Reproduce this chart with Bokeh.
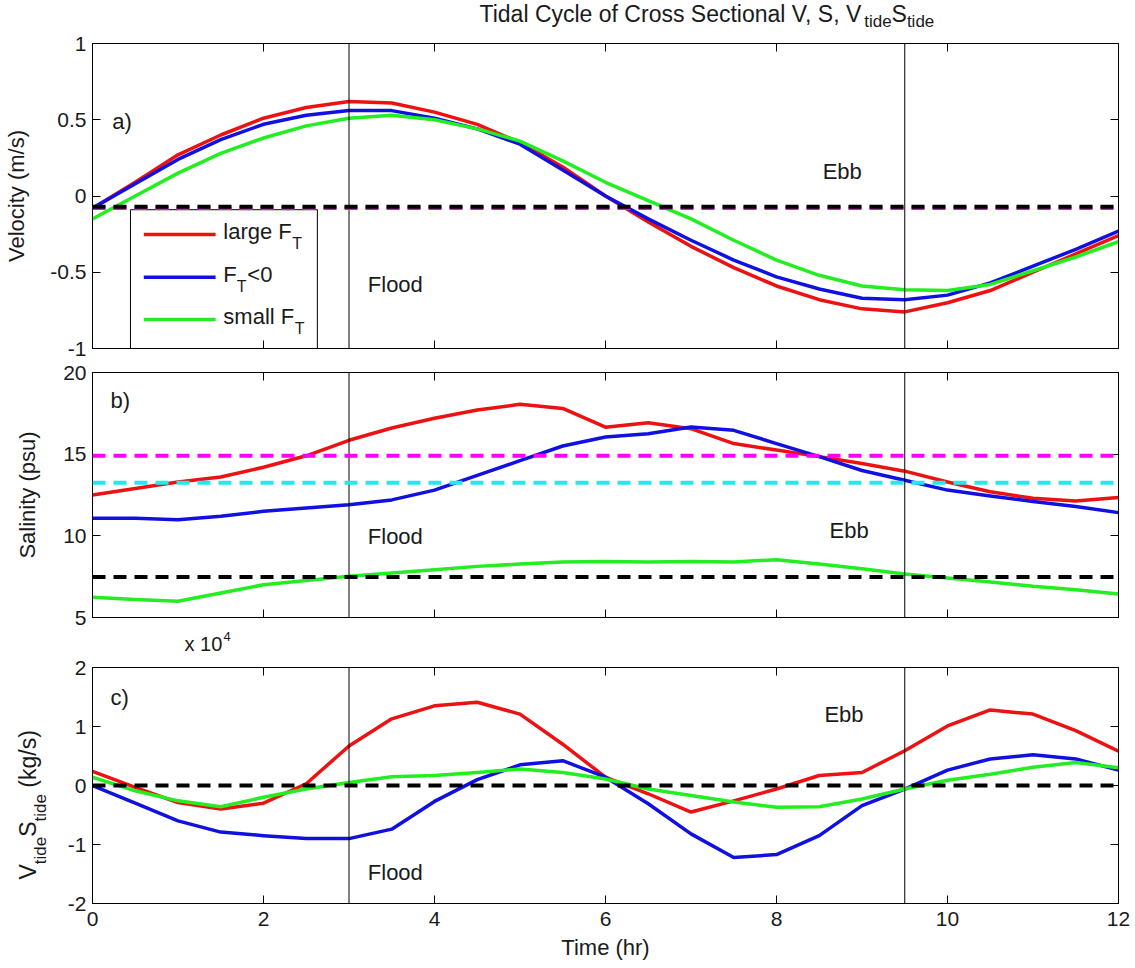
from bokeh.plotting import figure
from bokeh.layouts import column, row
from bokeh.models import (Range1d, LinearAxis, FixedTicker, CustomJSTickFormatter,
                          Span, Label)
from bokeh.core.properties import value
from bokeh.embed import file_html
from bokeh.resources import INLINE

# ---------------- data ----------------
time_hr = [0, 0.5, 1, 1.5, 2, 2.5, 3, 3.5, 4, 4.5, 5, 5.5, 6,
           6.5, 7, 7.5, 8, 8.5, 9, 9.5, 10, 10.5, 11, 11.5, 12]

# a) cross-sectional velocity (m/s)
vel_large = [-0.08, 0.09, 0.27, 0.40, 0.51, 0.58, 0.62, 0.61, 0.55, 0.47, 0.35, 0.19, 0.00,
             -0.17, -0.33, -0.47, -0.59, -0.68, -0.74, -0.76, -0.70, -0.62, -0.50, -0.38, -0.26]
vel_neg = [-0.08, 0.08, 0.24, 0.37, 0.47, 0.53, 0.56, 0.56, 0.51, 0.44, 0.34, 0.17, 0.00,
           -0.15, -0.29, -0.42, -0.53, -0.61, -0.67, -0.68, -0.65, -0.57, -0.46, -0.35, -0.23]
vel_small = [-0.15, 0.00, 0.15, 0.28, 0.38, 0.46, 0.51, 0.53, 0.50, 0.44, 0.36, 0.23, 0.09,
             -0.03, -0.15, -0.29, -0.42, -0.52, -0.59, -0.615, -0.62, -0.58, -0.49, -0.40, -0.30]

# b) salinity (psu)
sal_large = [12.5, 12.9, 13.3, 13.6, 14.2, 14.9, 15.85, 16.6, 17.2, 17.7, 18.05, 17.8, 16.65,
             16.93, 16.56, 15.65, 15.25, 14.85, 14.43, 13.96, 13.3, 12.7, 12.3, 12.13, 12.34]
sal_neg = [11.08, 11.08, 10.98, 11.2, 11.5, 11.7, 11.9, 12.2, 12.8, 13.7, 14.6, 15.5, 16.05,
           16.25, 16.66, 16.46, 15.65, 14.85, 14.0, 13.4, 12.8, 12.44, 12.1, 11.8, 11.42]
sal_small = [6.24, 6.1, 6.0, 6.5, 7.0, 7.26, 7.52, 7.72, 7.93, 8.13, 8.27, 8.4, 8.43,
             8.4, 8.43, 8.4, 8.54, 8.27, 7.99, 7.66, 7.42, 7.18, 6.91, 6.7, 6.44]

# c) tidal salt flux V_tide*S_tide (x 10^4 kg/s)
flux_large = [0.24, -0.03, -0.29, -0.40, -0.30, 0.03, 0.67, 1.13, 1.35, 1.41, 1.21, 0.70, 0.14,
              -0.14, -0.45, -0.26, -0.06, 0.17, 0.22, 0.59, 1.01, 1.28, 1.21, 0.93, 0.58]
flux_neg = [0.0, -0.30, -0.60, -0.79, -0.85, -0.90, -0.90, -0.74, -0.27, 0.10, 0.35, 0.42, 0.14,
            -0.31, -0.82, -1.22, -1.17, -0.85, -0.34, -0.06, 0.26, 0.45, 0.52, 0.45, 0.26]
flux_small = [0.14, -0.09, -0.26, -0.36, -0.20, -0.06, 0.05, 0.15, 0.17, 0.22, 0.28, 0.22, 0.11,
              -0.06, -0.17, -0.28, -0.37, -0.36, -0.23, -0.06, 0.09, 0.19, 0.31, 0.39, 0.30]

# mean (reference) levels drawn dashed
vel_mean_large = -0.078
vel_mean_small = -0.07
sal_mean_large = 14.9
sal_mean_neg = 13.25
sal_mean_small = 7.48
flux_zero = 0.0

phase_lines = [3, 9.5]          # hours separating flood / ebb
x_ticks = [0, 2, 4, 6, 8, 10, 12]
vel_ticks = [-1, -0.5, 0, 0.5, 1]
sal_ticks = [5, 10, 15, 20]
flux_ticks = [-2, -1, 0, 1, 2]

RED, BLUE, GREEN = "#ee1111", "#1010e0", "#22ee22"
MAGENTA, CYAN, BLACK = "#ff00ff", "#22e8f0", "#000000"
TXT = "#1a1a1a"
FONT = "Liberation Sans"
FS = "22px"
TICK_FS = "21px"
SUB = "16px"

FULL_W = 1133
LEFT_B = 92
RIGHT_B = 15
FRAME_W = FULL_W - LEFT_B - RIGHT_B

num_fmt = CustomJSTickFormatter(code="return tick.toString();")


def blank_fmt():
    return CustomJSTickFormatter(code="return '';")


def style_axis(ax, labels):
    ax.major_tick_in = 8
    ax.major_tick_out = 0
    ax.minor_tick_in = 0
    ax.minor_tick_out = 0
    ax.axis_line_color = BLACK
    ax.major_tick_line_color = BLACK
    ax.major_label_text_font = FONT
    ax.major_label_text_color = TXT
    ax.axis_label_text_font = FONT
    ax.axis_label_text_font_size = FS
    ax.axis_label_text_font_style = "normal"
    ax.axis_label_text_color = TXT
    if labels:
        ax.major_label_text_font_size = TICK_FS
        ax.major_label_standoff = 8
    else:
        ax.major_label_text_font_size = "1px"
        ax.major_label_standoff = 0


def make_fig(ymin, ymax, yticks, fh, top, bottom, xlabels, ylabel, ystand, left_b=LEFT_B):
    p = figure(frame_width=FRAME_W, frame_height=fh,
               x_range=Range1d(0, 12), y_range=Range1d(ymin, ymax),
               output_backend="svg", toolbar_location=None,
               x_axis_location=None, y_axis_location=None,
               min_border_left=left_b, min_border_right=RIGHT_B,
               min_border_top=top, min_border_bottom=bottom)
    p.grid.visible = False
    p.outline_line_color = BLACK
    p.outline_line_width = 1
    p.background_fill_color = "white"
    p.border_fill_color = "white"

    left = LinearAxis(ticker=FixedTicker(ticks=yticks), formatter=num_fmt)
    style_axis(left, True)
    left.major_label_standoff = 6
    if ylabel:
        left.axis_label = ylabel
        left.axis_label_standoff = ystand
    p.add_layout(left, "left")

    right = LinearAxis(ticker=FixedTicker(ticks=yticks), formatter=blank_fmt())
    style_axis(right, False)
    p.add_layout(right, "right")

    below = LinearAxis(ticker=FixedTicker(ticks=x_ticks),
                       formatter=num_fmt if xlabels else blank_fmt())
    style_axis(below, xlabels)
    if xlabels:
        below.axis_label = "Time (hr)"
        below.axis_label_standoff = 6
    p.add_layout(below, "below")

    above = LinearAxis(ticker=FixedTicker(ticks=x_ticks), formatter=blank_fmt())
    style_axis(above, False)
    p.add_layout(above, "above")

    for t in phase_lines:
        p.add_layout(Span(location=t, dimension="height", line_color=BLACK, line_width=1))
    return p


def strip(w, h):
    """A bare figure used only to hold text outside the axes (pixel coordinates)."""
    s = figure(frame_width=w, frame_height=h, x_range=Range1d(0, w), y_range=Range1d(0, h),
               output_backend="svg", toolbar_location=None,
               x_axis_location=None, y_axis_location=None,
               min_border_left=0, min_border_right=0, min_border_top=0, min_border_bottom=0)
    s.grid.visible = False
    s.outline_line_color = None
    s.background_fill_color = "white"
    s.border_fill_color = "white"
    return s


def stext(s, x, y, text, size=FS, angle=0):
    s.text(x=[x], y=[y], text=[text], text_font=value(FONT), text_font_size=value(size),
           text_color=TXT, text_align="left", text_baseline="middle", angle=angle)


def lab(p, text, x, y, size=FS, xo=0, yo=0, align="left"):
    p.add_layout(Label(x=x, y=y, text=text, x_offset=xo, y_offset=yo,
                       text_font=FONT, text_font_size=size, text_color=TXT,
                       text_align=align, text_baseline="middle"))


def hdash(p, level, color):
    p.add_layout(Span(location=level, dimension="width", line_color=color,
                      line_width=4, line_dash="13 8"))


def series(p, ys, color):
    p.line(time_hr, ys, line_color=color, line_width=3.5, line_join="round")


# ---------------- title strip ----------------
TITLE_H = 31
ts = strip(FULL_W, TITLE_H)
stext(ts, 387, 18.0, "Tidal Cycle of Cross Sectional V, S, V", size="23px")
stext(ts, 771.7, 9.7, "tide", size="17px")
stext(ts, 799.1, 18.0, "S", size="23px")
stext(ts, 814.4, 9.7, "tide", size="17px")

# ---------------- panel a ----------------
pa = make_fig(-1, 1, vel_ticks, 305, 12, 12, False, "Velocity (m/s)", 18)
series(pa, vel_large, RED)
series(pa, vel_neg, BLUE)
series(pa, vel_small, GREEN)
hdash(pa, vel_mean_large, MAGENTA)
hdash(pa, vel_mean_small, BLACK)
lab(pa, "a)", 0.23, 0.49)
lab(pa, "Flood", 3.22, -0.58)
lab(pa, "Ebb", 8.54, 0.16)

# legend (drawn by hand so that the subscripts can be typeset)
pa.quad(left=[0.444], right=[2.63], bottom=[-1], top=[-0.09],
        fill_color="white", line_color=BLACK, line_width=1)
leg_rows = [-0.253, -0.532, -0.81]
leg_colors = [RED, BLUE, GREEN]
for yrow, c in zip(leg_rows, leg_colors):
    pa.segment(x0=[0.6], x1=[1.44], y0=[yrow], y1=[yrow], line_color=c, line_width=3.5)
lab(pa, "large F", 1.53, leg_rows[0], yo=3)
lab(pa, "T", 1.53, leg_rows[0], size=SUB, xo=69, yo=-9)
lab(pa, "F", 1.53, leg_rows[1], yo=3)
lab(pa, "T", 1.53, leg_rows[1], size=SUB, xo=13.5, yo=-9)
lab(pa, "<0", 1.53, leg_rows[1], xo=24, yo=3)
lab(pa, "small F", 1.53, leg_rows[2], yo=3)
lab(pa, "T", 1.53, leg_rows[2], size=SUB, xo=71.5, yo=-9)

# ---------------- panel b ----------------
pb = make_fig(5, 20, sal_ticks, 245, 12, 12, False, "Salinity (psu)", 20)
hdash(pb, sal_mean_large, MAGENTA)
hdash(pb, sal_mean_neg, CYAN)
series(pb, sal_large, RED)
series(pb, sal_neg, BLUE)
series(pb, sal_small, GREEN)
hdash(pb, sal_mean_small, BLACK)
lab(pb, "b)", 0.21, 18.3)
lab(pb, "Flood", 3.22, 9.94)
lab(pb, "Ebb", 8.62, 10.3)

# ---------------- exponent strip ----------------
EXP_H = 26
es = strip(FULL_W, EXP_H)
stext(es, 92, 11.2, "x 10", size="20px")
stext(es, 131, 18.7, "4", size="13px")

# ---------------- panel c ----------------
YL_W = 50
C_TOP, C_FRAME, C_BOT = 12, 236, 63
pc = make_fig(-2, 2, flux_ticks, C_FRAME, C_TOP, C_BOT, True, None, 0, left_b=LEFT_B - YL_W)
series(pc, flux_large, RED)
series(pc, flux_neg, BLUE)
series(pc, flux_small, GREEN)
hdash(pc, flux_zero, BLACK)
lab(pc, "c)", 0.21, 1.5)
lab(pc, "Flood", 3.22, -1.47)
lab(pc, "Ebb", 8.56, 1.21)

# rotated y-axis label with subscripts, in its own strip left of panel c
YL_H = C_TOP + C_FRAME + C_BOT
ys_ = strip(YL_W, YL_H)
ROT = 1.5707963267948966
B0 = C_BOT - 2
stext(ys_, 27, B0 + 38, "V", size="23px", angle=ROT)
stext(ys_, 40, B0 + 53.3, "tide", size="17px", angle=ROT)
stext(ys_, 27, B0 + 80.7, "S", size="23px", angle=ROT)
stext(ys_, 40, B0 + 96, "tide", size="17px", angle=ROT)
stext(ys_, 27, B0 + 129.8, "(kg/s)", size="23px", angle=ROT)

layout = column(ts, pa, pb, es, row(ys_, pc, spacing=0), spacing=0)
open("out.html", "w").write(file_html(layout, INLINE))
